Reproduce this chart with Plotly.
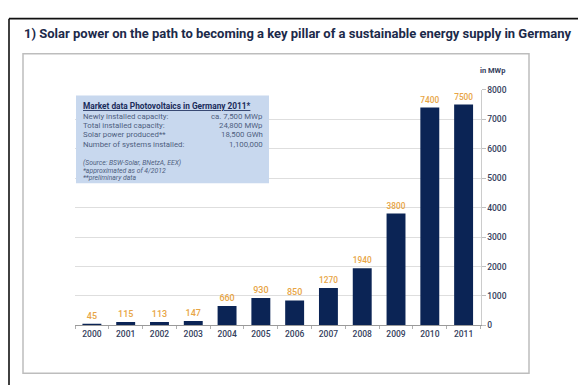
import plotly.graph_objects as go

W, H = 578, 385

# ---- data ----
years = ["2000", "2001", "2002", "2003", "2004", "2005", "2006", "2007", "2008", "2009", "2010", "2011"]
new_capacity_mwp = [45, 115, 113, 147, 660, 930, 850, 1270, 1940, 3800, 7400, 7500]
y_ticks = [0, 1000, 2000, 3000, 4000, 5000, 6000, 7000, 8000]

title_text = "1) Solar power on the path to becoming a key pillar of a sustainable energy supply in Germany"
unit_text = "in MWp"
box_title = "Market data Photovoltaics in Germany 2011*"
box_labels = ["Newly installed capacity:", "Total installed capacity:", "Solar power produced**", "Number of systems installed:"]
box_values = ["ca. 7,500 MWp", "24,800 MWp", "18,500 GWh", "1,100,000"]
box_notes = ["(Source: BSW-Solar, BNetzA, EEX)", "*approximated as of 4/2012", "**preliminary data"]

NAVY = "#0b2455"
ORANGE = "#e8a545"
AXTXT = "#34405c"


def px(x):
    return x / W


def py(y):
    return 1 - y / H


fig = go.Figure()
fig.add_trace(go.Bar(
    x=years, y=new_capacity_mwp,
    marker=dict(color=NAVY, line=dict(width=0)),
    width=0.56,
    text=[str(v) for v in new_capacity_mwp],
    textposition="outside",
    textfont=dict(color=ORANGE, size=9, family="Roboto", weight=500),
    cliponaxis=False,
    hoverinfo="x+y",
))

shapes = [
    # outer black frame (top & left visible)
    dict(type="line", xref="paper", yref="paper", x0=px(9), x1=px(600), y0=py(14), y1=py(14),
         line=dict(color="#111111", width=1.6)),
    dict(type="line", xref="paper", yref="paper", x0=px(9), x1=px(9), y0=py(14), y1=py(400),
         line=dict(color="#111111", width=1.6)),
    # inner grey frame
    dict(type="rect", xref="paper", yref="paper", x0=px(23), x1=px(529), y0=py(378), y1=py(50),
         line=dict(color="#bdbdbd", width=1.5), fillcolor="rgba(0,0,0,0)"),
    # info box
    dict(type="rect", xref="paper", yref="paper", x0=px(76), x1=px(269), y0=py(183), y1=py(93),
         line=dict(width=0), fillcolor="#c8d8ee", layer="above"),
]

annotations = [
    dict(text="<b>" + title_text + "</b>", x=px(22), y=py(29), xref="paper", yref="paper",
         xanchor="left", yanchor="middle", showarrow=False,
         font=dict(family="Roboto", size=13, color="#1c2a4a")),
    dict(text="<b>" + unit_text + "</b>", x=px(492), y=py(67), xref="paper", yref="paper",
         xanchor="center", yanchor="middle", showarrow=False,
         font=dict(family="Roboto", size=7.5, color=AXTXT)),
    dict(text="<b><u>" + box_title + "</u></b>", x=px(81), y=py(104), xref="paper", yref="paper",
         xanchor="left", yanchor="middle", showarrow=False,
         font=dict(family="Roboto", size=8.3, color="#1a2c5a")),
]
for i, (lab, val) in enumerate(zip(box_labels, box_values)):
    yy = 114 + i * 9.7
    annotations.append(dict(text=lab, x=px(81), y=py(yy), xref="paper", yref="paper",
                            xanchor="left", yanchor="middle", showarrow=False,
                            font=dict(family="Roboto", size=7.8, color="#4e5e7e")))
    annotations.append(dict(text=val, x=px(265), y=py(yy), xref="paper", yref="paper",
                            xanchor="right", yanchor="middle", showarrow=False,
                            font=dict(family="Roboto", size=7.8, color="#4e5e7e")))
for i, note in enumerate(box_notes):
    yy = 162 + i * 8
    annotations.append(dict(text="<i>" + note + "</i>", x=px(81), y=py(yy), xref="paper", yref="paper",
                            xanchor="left", yanchor="middle", showarrow=False,
                            font=dict(family="Roboto", size=6.8, color="#4e5e7e")))

fig.update_layout(
    width=W, height=H,
    margin=dict(l=0, r=0, t=0, b=0),
    paper_bgcolor="white", plot_bgcolor="white",
    showlegend=False,
    bargap=0.44,
    shapes=shapes,
    annotations=annotations,
    xaxis=dict(
        domain=[px(75), px(480.5)],
        type="category",
        tickson="boundaries",
        ticks="outside", ticklen=3, tickcolor="#b0b0b0",
        showline=True, linecolor="#9a9a9a", linewidth=1,
        showgrid=False, zeroline=False,
        tickfont=dict(family="Roboto", size=8.5, color=AXTXT, weight=500),
        fixedrange=True,
    ),
    yaxis=dict(
        domain=[py(329), py(87)],
        side="right",
        range=[0, 8000],
        tickvals=y_ticks,
        ticktext=[str(v) for v in y_ticks],
        ticks="outside", ticklen=4, tickcolor="#c0c0c0",
        showline=True, linecolor="#cccccc", linewidth=1,
        showgrid=True, gridcolor="#dedede", gridwidth=1,
        zeroline=False,
        tickfont=dict(family="Roboto", size=8.5, color=AXTXT, weight=500),
        fixedrange=True,
    ),
)

fig.write_html("out.html")
